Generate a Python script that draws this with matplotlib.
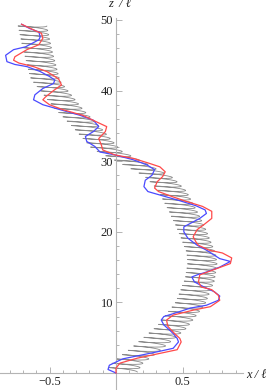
import numpy as np
import matplotlib
matplotlib.use("Agg")
import matplotlib.pyplot as plt

# ---- data ----
blue_z = [0, 0.5, 1.1, 2.0, 2.5, 3.0, 3.5, 4.4, 4.9, 5.6, 6.3, 6.8, 7.5, 8.0, 8.4, 9.2, 9.6,
          10.3, 10.9, 11.5, 12.2, 12.9, 13.6, 13.9, 14.3, 15.0, 15.8, 16.2, 17.4, 18.1, 19.1,
          20.0, 20.7, 21.2, 21.9, 22.6, 23.1, 23.7, 24.4, 25.1, 25.7, 26.4, 27.3, 28.0, 28.8,
          29.5, 30.2, 30.9, 31.3, 32.1, 32.8, 33.5, 34.2, 34.9, 35.8, 36.5, 37.3, 38.0, 38.7,
          39.4, 40.3, 41.0, 41.5, 42.0, 42.7, 43.4, 43.7, 44.1, 45.0, 45.8, 46.2, 47.2, 47.6,
          48.3, 48.8, 49.4]
blue_x = [0, -0.06, -0.05, 0.05, 0.18, 0.31, 0.43, 0.47, 0.46, 0.43, 0.39, 0.36, 0.34, 0.36,
          0.43, 0.56, 0.68, 0.77, 0.78, 0.74, 0.66, 0.59, 0.57, 0.61, 0.68, 0.78, 0.86, 0.78,
          0.68, 0.61, 0.54, 0.51, 0.51, 0.56, 0.63, 0.68, 0.67, 0.60, 0.48, 0.35, 0.24, 0.21,
          0.22, 0.27, 0.29, 0.23, 0.13, -0.01, -0.12, -0.16, -0.22, -0.23, -0.17, -0.13, -0.17,
          -0.27, -0.42, -0.55, -0.62, -0.61, -0.55, -0.47, -0.46, -0.50, -0.57, -0.67, -0.76,
          -0.82, -0.83, -0.77, -0.68, -0.58, -0.57, -0.58, -0.65, -0.71]

red_z = [0, 0.7, 1.4, 2.1, 2.7, 3.3, 4.4, 4.9, 5.6, 6.6, 7.5, 8.2, 8.9, 9.4, 10.3, 11.0, 11.8,
         12.2, 12.9, 13.9, 14.6, 15.5, 16.3, 17.0, 17.4, 18.1, 18.6, 19.3, 20.3, 21.0, 21.9,
         22.9, 23.6, 24.3, 25.0, 25.7, 26.2, 27.1, 27.8, 28.5, 29.2, 29.7, 30.4, 30.9, 31.6,
         32.3, 33.2, 34.2, 34.9, 35.6, 36.5, 37.3, 38.0, 38.7, 39.1, 40.0, 40.8, 41.6, 42.0,
         42.7, 43.4, 43.9, 44.3, 44.8, 45.8, 46.5, 47.4, 48.1, 48.6, 49.4]
red_x = [0, 0.0, 0.03, 0.16, 0.31, 0.46, 0.49, 0.48, 0.44, 0.39, 0.38, 0.43, 0.58, 0.71, 0.78,
         0.77, 0.72, 0.64, 0.62, 0.63, 0.73, 0.86, 0.87, 0.80, 0.70, 0.62, 0.60, 0.58, 0.61,
         0.66, 0.72, 0.72, 0.65, 0.53, 0.42, 0.32, 0.29, 0.31, 0.35, 0.37, 0.33, 0.25, 0.13,
         -0.01, -0.10, -0.11, -0.13, -0.08, -0.07, -0.15, -0.25, -0.40, -0.50, -0.55, -0.53,
         -0.47, -0.41, -0.43, -0.46, -0.52, -0.62, -0.73, -0.77, -0.76, -0.67, -0.58, -0.55,
         -0.56, -0.62, -0.71]

# helix axis (centre line of the grey coil)
coil_z = [0.3, 1.5, 3.3, 6.5, 9.9, 13.2, 15.6, 17.0, 20.3, 22.7, 25.9, 27.8, 29.8, 31.6, 34.8,
          37.3, 41.5, 45.8, 49.3]
coil_x = [0.05, 0.09, 0.22, 0.42, 0.56, 0.63, 0.65, 0.64, 0.57, 0.51, 0.42, 0.32, 0.12, -0.07,
          -0.22, -0.35, -0.53, -0.59, -0.63]
coil_turns = 80
coil_halfwidth = 0.11
coil_halfheight = 0.14
coil_tilt = -0.16

x_major = [-0.5, 0.5]
x_major_labels = ["\u22120.5", "0.5"]
z_major = [10, 20, 30, 40, 50]
z_major_labels = ["10", "20", "30", "40", "50"]

# ---- figure ----
W, H = 266, 390
fig = plt.figure(figsize=(W / 100, H / 100), dpi=100)
ax = fig.add_axes([0, 0, 1, 1])
ax.set_xlim(-116 / 133, (W - 116) / 133)
ax.set_ylim(-(H - 373) / 7.06, 373 / 7.06)

serif = ["Liberation Serif", "DejaVu Serif"]
axis_col = "#b4b4b4"

# grey coil
s = np.linspace(0, 1, 8000)
zc = coil_z[0] + s * (coil_z[-1] - coil_z[0])
xc = np.interp(zc, coil_z, coil_x)
phi = 2 * np.pi * coil_turns * s
ax.plot(xc + coil_halfwidth * np.cos(phi),
        zc + coil_halfheight * np.sin(phi) + coil_tilt * np.cos(phi),
        color="#8a8a8a", lw=0.6, zorder=2)

ax.plot(blue_x, blue_z, color="#4a4aff", lw=0.9, zorder=3)
ax.plot(red_x, red_z, color="#ff4a4a", lw=0.9, zorder=4)

# axes in Mathematica style
for sp in ["top", "right"]:
    ax.spines[sp].set_visible(False)
ax.spines["left"].set_position(("data", 0))
ax.spines["bottom"].set_position(("data", 0))
ax.spines["left"].set_bounds(ax.get_ylim()[0], 50.3)
ax.spines["bottom"].set_bounds(ax.get_xlim()[0], 0.955)
for sp in ["left", "bottom"]:
    ax.spines[sp].set_color(axis_col)
    ax.spines[sp].set_linewidth(0.8)

ax.set_xticks(x_major)
ax.set_xticklabels(x_major_labels)
ax.set_xticks(np.round(np.arange(-0.8, 0.91, 0.1), 2), minor=True)
ax.set_yticks(z_major)
ax.set_yticklabels(z_major_labels)
ax.set_yticks(np.arange(2, 50, 2), minor=True)
ax.tick_params(which="both", direction="in", color=axis_col, width=0.7,
               labelsize=9, labelcolor="#222222")
ax.tick_params(which="major", length=4, pad=2)
ax.tick_params(which="minor", length=2.5)
for lab in ax.get_xticklabels() + ax.get_yticklabels():
    lab.set_family(serif)

ax.text(-0.06, 52.2, "z", family=serif, style="italic", fontsize=9,
        ha="left", va="center", color="#222222")
ax.text(0.0, 52.2, " / \u2113", family=serif, style="italic", fontsize=9,
        ha="left", va="center", color="#222222")
ax.text(0.975, -0.35, "x / \u2113", family=serif, style="italic", fontsize=9,
        ha="left", va="center", color="#222222")

fig.savefig("out.png", dpi=100)
